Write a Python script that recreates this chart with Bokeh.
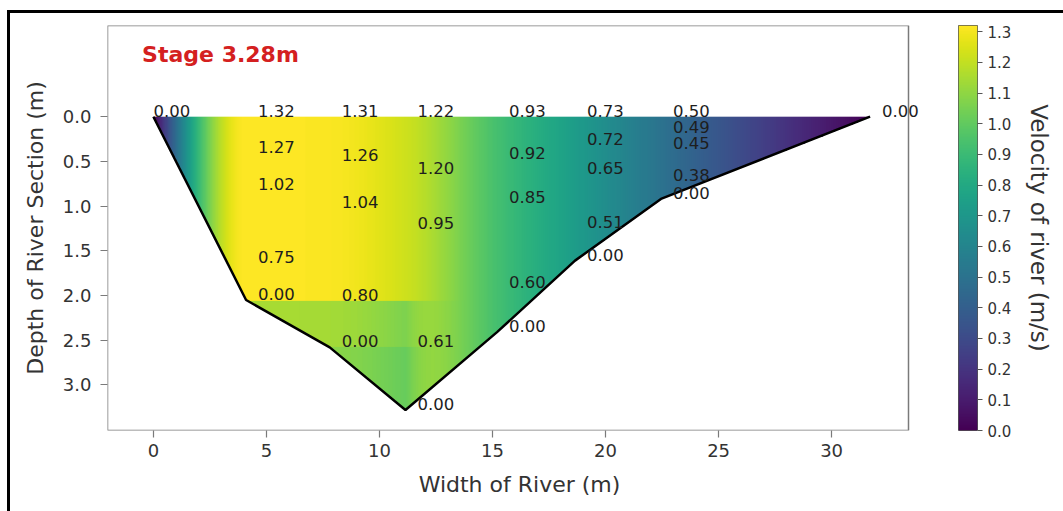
import numpy as np
from bokeh.plotting import figure
from bokeh.models import (LinearColorMapper, Range1d, FixedTicker, BoxAnnotation,
                          Label, NumeralTickFormatter)
from bokeh.palettes import Viridis256
from bokeh.layouts import row
from bokeh.embed import file_html
from bokeh.resources import INLINE

# ---------------- data ----------------
title_text = "Stage 3.28m"
x_label = "Width of River (m)"
y_label = "Depth of River Section (m)"
cbar_label = "Velocity of river (m/s)"

# verticals (stations) across the river and bed depth at each
station_x = [0.0, 4.1, 7.8, 11.15, 15.2, 18.65, 22.45, 31.7]
bed_depth = [0.0, 2.05, 2.58, 3.28, 2.41, 1.61, 0.92, 0.0]
surface_v = [0.00, 1.32, 1.31, 1.22, 0.93, 0.73, 0.50, 0.00]

# measured points: station index, depth (m), velocity (m/s)
pt_station = [0,
              1, 1, 1, 1, 1,
              2, 2, 2, 2, 2,
              3, 3, 3, 3, 3,
              4, 4, 4, 4, 4,
              5, 5, 5, 5, 5,
              6, 6, 6, 6, 6,
              7]
pt_depth = [0.0,
            0.0, 0.41, 0.82, 1.64, 2.05,
            0.0, 0.50, 1.02, 2.06, 2.58,
            0.0, 0.64, 1.26, 2.58, 3.28,
            0.0, 0.47, 0.97, 1.92, 2.41,
            0.0, 0.32, 0.64, 1.25, 1.61,
            0.0, 0.18, 0.36, 0.72, 0.92,
            0.0]
pt_vel = [0.00,
          1.32, 1.27, 1.02, 0.75, 0.00,
          1.31, 1.26, 1.04, 0.80, 0.00,
          1.22, 1.20, 0.95, 0.61, 0.00,
          0.93, 0.92, 0.85, 0.60, 0.00,
          0.73, 0.72, 0.65, 0.51, 0.00,
          0.50, 0.49, 0.45, 0.38, 0.00,
          0.00]

# lower-layer shading of the velocity field
band_top_depth = [2.06, 2.58]
band_scale = [0.87, 0.83]
band_full_until_station = 3   # full shading up to this vertical, fading out towards the next

# axes extents
x_lim = [-2.03, 33.4]
y_lim = [3.51, -1.02]
x_ticks = [0, 5, 10, 15, 20, 25, 30]
y_ticks = [0.0, 0.5, 1.0, 1.5, 2.0, 2.5, 3.0]
cbar_ticks = [0.0, 0.1, 0.2, 0.3, 0.4, 0.5, 0.6, 0.7, 0.8, 0.9, 1.0, 1.1, 1.2, 1.3]


# ---------------- velocity field (monotone cubic along the width) ----------------
def pchip(xk, yk, xq):
    xk = np.asarray(xk, float); yk = np.asarray(yk, float)
    h = np.diff(xk); dl = np.diff(yk) / h
    n = len(xk); d = np.zeros(n)
    for k in range(1, n - 1):
        if dl[k - 1] * dl[k] > 0:
            w1 = 2 * h[k] + h[k - 1]; w2 = h[k] + 2 * h[k - 1]
            d[k] = (w1 + w2) / (w1 / dl[k - 1] + w2 / dl[k])
    def endd(h0, h1, m0, m1):
        dd = ((2 * h0 + h1) * m0 - h0 * m1) / (h0 + h1)
        if np.sign(dd) != np.sign(m0):
            dd = 0.0
        elif np.sign(m0) != np.sign(m1) and abs(dd) > abs(3 * m0):
            dd = 3 * m0
        return dd
    d[0] = endd(h[0], h[1], dl[0], dl[1])
    d[-1] = endd(h[-1], h[-2], dl[-1], dl[-2])
    idx = np.clip(np.searchsorted(xk, xq) - 1, 0, n - 2)
    t = (xq - xk[idx]) / h[idx]
    h00 = 2 * t**3 - 3 * t**2 + 1; h10 = t**3 - 2 * t**2 + t
    h01 = -2 * t**3 + 3 * t**2; h11 = t**3 - t**2
    return (h00 * yk[idx] + h10 * h[idx] * d[idx] + h01 * yk[idx + 1]
            + h11 * h[idx] * d[idx + 1])

x0, x1 = station_x[0], station_x[-1]
d1 = max(bed_depth)
nx, nd = 1000, 420
gx = np.linspace(x0, x1, nx)
gd = np.linspace(0, d1, nd)
S = pchip(station_x, surface_v, gx)

xa = station_x[band_full_until_station]
xb = station_x[band_full_until_station + 1]
wx = np.clip((xb - gx) / (xb - xa), 0, 1) ** 4
factor = np.ones((nd, nx))
for bt, bs in zip(band_top_depth, band_scale):
    sel = gd >= bt
    factor[sel, :] = 1 - (1 - bs) * wx[None, :]
field = factor * S[None, :]
bed_at_x = np.interp(gx, station_x, bed_depth)
field[gd[:, None] > bed_at_x[None, :]] = np.nan

vmax = max(pt_vel)
mapper = LinearColorMapper(palette=Viridis256, low=0, high=vmax, nan_color="rgba(0,0,0,0)")

# ---------------- main figure ----------------
FONT = "DejaVu Sans"
AX = "#7a7a7a"
FRAME_W = 801            # visible axes box width in px
EXTRA_PX = 23            # room right of the box so labels may run past the spine
px_per_unit = FRAME_W / (x_lim[1] - x_lim[0])
x_end_canvas = x_lim[1] + EXTRA_PX / px_per_unit

p = figure(width=930, height=498, output_backend="svg", toolbar_location=None,
           x_range=Range1d(x_lim[0], x_end_canvas), y_range=Range1d(y_lim[0], y_lim[1]),
           min_border_left=97, min_border_right=930 - 97 - FRAME_W - EXTRA_PX,
           min_border_top=12, min_border_bottom=81)
p.image(image=[field], x=x0, y=0, dw=x1 - x0, dh=d1, color_mapper=mapper)
p.line(station_x, bed_depth, line_color="black", line_width=2.5)

# the visible axes box
p.add_layout(BoxAnnotation(left=x_lim[0], right=x_lim[1], top=y_lim[1], bottom=y_lim[0],
                           fill_color=None, fill_alpha=0, line_color=AX, line_alpha=1.0,
                           line_width=1.5))

for s, dep, v in zip(pt_station, pt_depth, pt_vel):
    xs = station_x[s]
    p.add_layout(Label(x=xs, y=dep, text="%.2f" % v, x_offset=0 if xs == 0 else 12,
                       text_align="left", text_baseline="bottom", text_font=FONT,
                       text_font_size="16.5px", text_color="#1e1e1e"))

p.add_layout(Label(x=-0.5, y=-0.70, text=title_text, text_font=FONT, text_font_size="22px",
                   text_font_style="bold", text_color="#d42020", text_baseline="alphabetic"))

p.xgrid.visible = False
p.ygrid.visible = False
p.outline_line_color = None
p.xaxis.ticker = FixedTicker(ticks=x_ticks)
p.yaxis.ticker = FixedTicker(ticks=y_ticks)
p.yaxis.formatter = NumeralTickFormatter(format="0.0")
p.xaxis.axis_label = x_label
p.yaxis.axis_label = y_label
for ax in (p.xaxis, p.yaxis):
    ax.axis_line_color = None
    ax.major_tick_line_color = AX
    ax.major_tick_line_width = 1.2
    ax.major_tick_out = 7
    ax.major_tick_in = 0
    ax.minor_tick_line_color = None
    ax.major_label_text_font = FONT
    ax.major_label_text_font_size = "18px"
    ax.major_label_text_color = "#333333"
    ax.axis_label_text_font = FONT
    ax.axis_label_text_font_size = "22px"
    ax.axis_label_text_font_style = "normal"
    ax.axis_label_text_color = "#333333"
p.xaxis.major_label_standoff = 6
p.yaxis.major_label_standoff = 9
p.xaxis.axis_label_standoff = 12
p.yaxis.axis_label_standoff = 12

# ---------------- colour bar ----------------
cb = figure(width=123, height=498, output_backend="svg", toolbar_location=None,
            x_range=Range1d(0, 1), y_range=Range1d(0, vmax),
            x_axis_location=None, y_axis_location="right",
            min_border_left=18, min_border_right=86, min_border_top=12, min_border_bottom=81)
grad = np.linspace(0, vmax, 256).reshape(256, 1)
cb.image(image=[grad], x=0, y=0, dw=1, dh=vmax, color_mapper=mapper)
cb.xgrid.visible = False
cb.ygrid.visible = False
cb.outline_line_color = "#555555"
cb.yaxis.ticker = FixedTicker(ticks=cbar_ticks)
cb.yaxis.formatter = NumeralTickFormatter(format="0.0")
cb.yaxis.axis_label = cbar_label
cb.yaxis.axis_line_color = None
cb.yaxis.major_tick_line_color = "#555555"
cb.yaxis.major_tick_out = 5
cb.yaxis.major_tick_in = 0
cb.yaxis.major_label_standoff = 5
cb.yaxis.minor_tick_line_color = None
cb.yaxis.major_label_text_font = FONT
cb.yaxis.major_label_text_font_size = "15px"
cb.yaxis.major_label_text_color = "#333333"
cb.yaxis.axis_label_text_font = FONT
cb.yaxis.axis_label_text_font_size = "23px"
cb.yaxis.axis_label_text_font_style = "normal"
cb.yaxis.axis_label_text_color = "#333333"
cb.yaxis.axis_label_standoff = 12

layout = row(p, cb, margin=(10, 0, 0, 7),
             styles={"border-left": "3px solid black", "border-top": "3px solid black"})

open("out.html", "w").write(file_html(layout, INLINE))
